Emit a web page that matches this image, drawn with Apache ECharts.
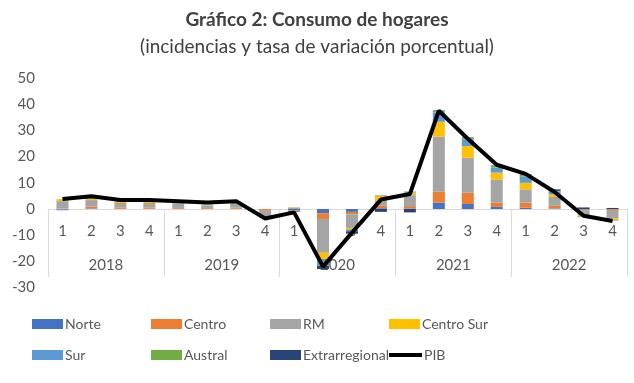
<!DOCTYPE html>
<html><head><meta charset="utf-8">
<script src="https://cdn.jsdelivr.net/npm/echarts@6/dist/echarts.min.js"></script>
<style>html,body{margin:0;padding:0;background:#fff}#c{width:634px;height:383px}</style>
</head><body><div id="c"></div>
<script>
const quarters = ['1','2','3','4','1','2','3','4','1','2','3','4','1','2','3','4','1','2','3','4'];
const years = ['2018','2019','2020','2021','2022'];
const yTicks = [-30,-20,-10,0,10,20,30,40,50];
const norte   = [-0.2, 0.2, 0.1, 0.1, 0.1, 0.1, 0.1, -0.1, -0.4, -1.6, -1.1, 0.3, 0.2, 2.4, 1.9, 0.8, 0.5, 0.2, -0.2, -0.2];
const centro  = [0.2, 0.7, 0.5, 0.5, 0.3, 0.3, 0.4, -0.6, -0.3, -2.2, -1.0, 0.9, 0.9, 4.2, 4.3, 1.6, 1.9, 1.0, -0.3, -0.5];
const rm      = [2.8, 2.5, 1.7, 1.7, 1.5, 1.0, 1.7, -2.2, 0.6, -12.9, -5.1, 1.9, 4.2, 21.0, 13.4, 8.9, 5.1, 3.4, -1.8, -3.0];
const centroSur = [0.7, 0.5, 0.4, 0.4, 0.2, 0.2, 0.2, -0.3, 0.1, -2.4, -0.6, 1.9, 1.0, 5.7, 4.4, 2.6, 2.5, 1.0, -0.5, -0.6];
const sur     = [-0.3, 0.3, 0.2, 0.2, 0.2, 0.1, 0.2, -0.2, -0.2, -2.3, -0.6, 0.2, 0.3, 3.5, 2.6, 1.9, 2.3, 1.1, -0.3, -0.2];
const austral = [0.1, 0.1, 0.1, 0.1, 0.1, 0.1, 0.1, 0.0, 0.0, -0.3, -0.1, 0.1, 0.1, 0.6, 0.5, 0.6, 0.6, 0.2, 0.0, 0.0];
const extra   = [0.0, 0.0, 0.0, 0.0, 0.0, 0.0, 0.0, 0.0, -0.2, -1.2, -0.9, -1.1, -1.3, 0.2, 0.2, 0.2, 0.3, 0.6, 0.6, 0.4];
const pib     = [3.8, 4.9, 3.4, 3.4, 3.0, 2.5, 3.0, -3.6, -1.3, -22.0, -9.0, 3.6, 5.7, 37.5, 26.8, 16.9, 13.4, 6.5, -2.6, -4.6];

const names = ['Norte','Centro','RM','Centro Sur','Sur','Austral','Extrarregional'];
const colors = ['#4472C4','#ED7D31','#A5A5A5','#FFC000','#5B9BD5','#70AD47','#264478'];
const vals = [norte, centro, rm, centroSur, sur, austral, extra];
const FONT = 'Lato';
const TXT = '#595959';

const series = names.map((n,i)=>({
  name:n, type:'bar', stack:'s', data:vals[i], barWidth:12,
  itemStyle:{color:colors[i]}, xAxisIndex:0, yAxisIndex:0
}));
series.push({name:'PIB', type:'line', data:pib, showSymbol:false, symbol:'none',
  lineStyle:{color:'#000', width:4}, itemStyle:{color:'#000'}, z:5, xAxisIndex:0, yAxisIndex:0});

const legendPos = [
  [32,317],[151,317],[270,317],[389,317],
  [32,348],[151,348],[270,348],[389,348]
];
const allNames = names.concat(['PIB']);
const legends = allNames.map((n,i)=>({
  data:[n], left:legendPos[i][0], top:legendPos[i][1], padding:0,
  itemWidth: n==='PIB'?33:31, itemHeight: n==='PIB'?4:10, itemGap:0,
  icon:'rect', selectedMode:false,
  textStyle:{fontFamily:FONT, fontSize:14, color:TXT, padding:[0,0,0,-3]}
}));

const chart = echarts.init(document.getElementById('c'), null, {renderer:'canvas'});
chart.setOption({
  animation:false,
  title:[
    {text:'Gráfico 2: Consumo de hogares', left:'center', top:5,
     textStyle:{fontFamily:FONT, fontSize:19, fontWeight:'bold', color:'#404040'}},
    {text:'(incidencias y tasa de variación porcentual)', left:'center', top:32,
     textStyle:{fontFamily:FONT, fontSize:19, fontWeight:'normal', color:'#404040'}}
  ],
  legend:legends,
  grid:[
    {left:48, right:7, top:78, bottom:95.4, containLabel:false},
    {left:48, right:7, top:209, bottom:106, containLabel:false},
    {left:48, right:7, top:209, bottom:165, containLabel:false}
  ],
  xAxis:[
    {type:'category', data:quarters, gridIndex:0, position:'bottom',
     axisLine:{onZero:true, lineStyle:{color:'#d9d9d9'}},
     axisTick:{show:false}, axisLabel:{show:false}},
    {type:'category', data:years, gridIndex:1, position:'bottom',
     axisLine:{show:false, onZero:false},
     axisTick:{show:true, inside:true, length:68, lineStyle:{color:'#d9d9d9'}, interval:0},
     axisLabel:{fontFamily:FONT, fontSize:15, color:TXT, inside:true, margin:4, interval:0}},
    {type:'category', data:quarters, gridIndex:2, position:'bottom',
     axisLine:{show:false, onZero:false}, axisTick:{show:false},
     axisLabel:{fontFamily:FONT, fontSize:15, color:TXT, margin:6, interval:0}}
  ],
  yAxis:[
    {type:'value', gridIndex:0, min:yTicks[0], max:yTicks[yTicks.length-1], interval:10,
     splitLine:{show:false}, axisLine:{show:false}, axisTick:{show:false},
     axisLabel:{fontFamily:FONT, fontSize:15, color:TXT, margin:13}},
    {type:'value', gridIndex:1, min:0, max:1, show:false},
    {type:'value', gridIndex:2, min:0, max:1, show:false}
  ],
  series:series
});
</script></body></html>
